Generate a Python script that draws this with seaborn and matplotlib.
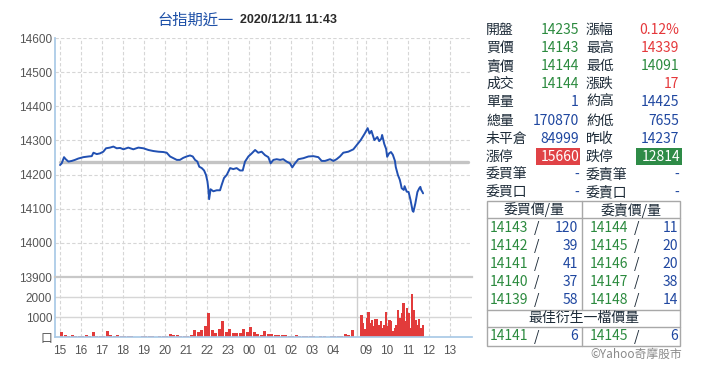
import numpy as np
import pandas as pd
import matplotlib
matplotlib.use("Agg")
import matplotlib.pyplot as plt
from matplotlib.patches import Rectangle
import seaborn as sns

# night session: hours after 15:00 and index price
night_hours = [0.00, 0.08, 0.19, 0.27, 0.40, 0.56, 0.71, 0.87, 1.11, 1.35, 1.51, 1.59, 1.75, 1.90,
               2.06, 2.19, 2.38, 2.54, 2.70, 2.86, 3.02, 3.25, 3.49, 3.73, 3.97, 4.21, 4.44, 4.68,
               4.92, 5.08, 5.24, 5.40, 5.56, 5.71, 5.87, 6.03, 6.19, 6.32, 6.43, 6.54, 6.63, 6.75,
               6.86, 6.95, 7.02, 7.06, 7.10, 7.17, 7.30, 7.46, 7.62, 7.70, 7.81, 7.94, 8.10, 8.25,
               8.41, 8.57, 8.70, 8.81, 8.97, 9.13, 9.29, 9.44, 9.60, 9.76, 9.92, 10.03, 10.16, 10.32,
               10.48, 10.63, 10.79, 10.95, 11.06, 11.19, 11.35, 11.59, 11.83, 12.06, 12.30, 12.46,
               12.62, 12.86, 13.02, 13.17, 13.33, 13.49, 13.73, 13.97]
night_price = [14228, 14233, 14251, 14245, 14238, 14240, 14243, 14247, 14251, 14253, 14254, 14264, 14260, 14262,
               14267, 14277, 14279, 14282, 14277, 14278, 14274, 14279, 14274, 14279, 14277, 14272, 14269, 14267,
               14266, 14264, 14253, 14248, 14243, 14243, 14249, 14253, 14256, 14253, 14243, 14238, 14223, 14219,
               14212, 14199, 14180, 14160, 14128, 14157, 14151, 14154, 14154, 14170, 14190, 14199, 14219, 14216,
               14219, 14212, 14212, 14238, 14253, 14262, 14272, 14264, 14267, 14257, 14251, 14233, 14243, 14245,
               14243, 14245, 14238, 14233, 14221, 14233, 14245, 14248, 14253, 14254, 14251, 14240,
               14240, 14245, 14240, 14245, 14253, 14264, 14267, 14274]

# day session: clock hours and index price
day_hours = [8.75, 8.84, 8.94, 9.08, 9.17, 9.26, 9.40, 9.54, 9.63, 9.73, 9.77, 9.87, 9.96, 10.01,
             10.10, 10.19, 10.28, 10.38, 10.42, 10.52, 10.61, 10.66, 10.70, 10.80, 10.84, 10.94,
             11.03, 11.12, 11.17, 11.22, 11.26, 11.35, 11.45, 11.54, 11.59, 11.63, 11.68, 11.72]
day_price = [14301, 14310, 14320, 14336, 14320, 14328, 14301, 14310, 14298, 14305, 14316, 14290, 14275, 14252,
             14262, 14266, 14258, 14240, 14222, 14199, 14185, 14172, 14160, 14155, 14166, 14150,
             14149, 14126, 14110, 14094, 14091, 14115, 14149, 14160, 14164, 14155, 14150, 14145]

# volume: 10-minute buckets from 15:00 (night), 5-minute buckets from 08:45 (day)
night_vol = [230, 80, 60, 90, 50, 70,
             60, 90, 40, 230, 70, 50,
             60, 280, 80, 60, 90, 40,
             50, 30, 40, 20, 0, 40,
             30, 50, 40, 20, 40, 50,
             60, 150, 120, 90, 60, 50,
             60, 80, 370, 250, 370, 530,
             1200, 330, 200, 400, 820, 250,
             400, 220, 200, 180, 400, 250,
             500, 250, 150, 120, 320, 130,
             130, 110, 120, 90, 100, 70,
             60, 80, 40, 50, 30, 40,
             30, 20, 40, 30, 20, 30,
             40, 60, 50, 160, 90, 370]
day_vol = [1100, 700, 400, 950, 1250, 700, 870, 530, 880, 900, 620, 790,
           450, 620, 1250, 530, 870, 820, 300, 450, 620, 1370, 950, 1200,
           1700, 790, 1450, 1200, 450, 2170, 1370, 870, 620, 900, 450, 620]

prev_close = 14237
night_labels = ["15", "16", "17", "18", "19", "20", "21", "22", "23", "00", "01", "02", "03", "04"]
day_labels = ["09", "10", "11", "12", "13"]

quote_rows = [("開盤", "14235", "g", "漲幅", "0.12%", "r"),
              ("買價", "14143", "g", "最高", "14339", "r"),
              ("賣價", "14144", "g", "最低", "14091", "g"),
              ("成交", "14144", "g", "漲跌", "17", "r"),
              ("單量", "1", "b", "約高", "14425", "b"),
              ("總量", "170870", "b", "約低", "7655", "b"),
              ("未平倉", "84999", "b", "昨收", "14237", "b"),
              ("漲停", "15660", "R", "跌停", "12814", "G"),
              ("委買筆", "-", "b", "委賣筆", "-", "b"),
              ("委買口", "-", "b", "委賣口", "-", "b")]
bid_price = ["14143", "14142", "14141", "14140", "14139"]
bid_qty = ["120", "39", "41", "37", "58"]
ask_price = ["14144", "14145", "14146", "14147", "14148"]
ask_qty = ["11", "20", "20", "38", "14"]
best_bid = ("14141", "6")
best_ask = ("14145", "6")

# ---- layout helpers
DAY0 = 14.57  # axis position of 09:00
SEP = 14.14   # session separator


def day_pos(h):
    return DAY0 + (np.asarray(h) - 9.0)


sns.set_theme(style="white")
plt.rcParams["font.family"] = ["Noto Sans CJK TC", "DejaVu Sans"]

GREEN = "#2b8a3e"
RED = "#e5383b"
BLUE = "#1f47a0"
LABEL = "#1d2b38"
GRID = "#d6d6d6"
AXIS = "#a9c9e6"
TXT = "#555555"
TICKFONT = "Liberation Sans"

W, H = 707, 392
fig = plt.figure(figsize=(W / 100, H / 100), dpi=100)
fig.patch.set_facecolor("white")

L, R = 55, 472
ax = fig.add_axes([L / W, 1 - 277 / H, (R - L) / W, (277 - 38) / H])
axv = fig.add_axes([L / W, 1 - 337 / H, (R - L) / W, 60 / H], sharex=ax)

xticks = list(range(len(night_labels))) + [DAY0 + i for i in range(len(day_labels))]
xlabels = night_labels + day_labels
xlim = (-0.24, 19.62)

# price panel
price_df = pd.DataFrame({
    "pos": np.concatenate([np.array(night_hours), day_pos(day_hours)]),
    "price": night_price + day_price,
})
ax.set_xlim(*xlim)
ax.set_ylim(13900, 14600)
for y in range(14000, 14601, 100):
    ax.axhline(y, color=GRID, lw=0.8, ls=(0, (3, 2)), zorder=0)
for x in xticks + [SEP]:
    ax.axvline(x, color=GRID, lw=0.8, ls=(0, (3, 2)), zorder=0)
ax.plot([0, 19.43], [prev_close, prev_close], color="#c4c4c4", lw=2.4, zorder=1)
sns.lineplot(data=price_df, x="pos", y="price", ax=ax, sort=False, color="#2150b2", lw=1.4, zorder=3)
ax.set_yticks(range(13900, 14601, 100))
ax.set_yticklabels([str(v) for v in range(13900, 14601, 100)], family=TICKFONT)
ax.tick_params(axis="y", length=0, pad=2, labelsize=8.5, labelcolor=TXT)
ax.tick_params(axis="x", length=0, labelbottom=False)
ax.set_xlabel("")
ax.set_ylabel("")
for s in ["top", "right", "bottom"]:
    ax.spines[s].set_visible(False)
ax.spines["left"].set_color(AXIS)

# volume panel
nv_pos = (np.arange(len(night_vol)) + 0.5) / 6
dv_pos = day_pos(8.75 + (np.arange(len(day_vol)) + 0.5) / 12)
axv.set_ylim(0, 3000)
for y in [1000, 2000]:
    axv.axhline(y, color=GRID, lw=1.0, zorder=0)
for x in xticks:
    axv.axvline(x, color=GRID, lw=0.8, ls=(0, (3, 2)), zorder=0)
axv.axvline(SEP, color="#cfcfcf", lw=1.0, zorder=0)
axv.bar(nv_pos, night_vol, width=0.15, color="#e23b3b", lw=0, zorder=2)
axv.bar(dv_pos, day_vol, width=0.11, color="#e23b3b", lw=0, zorder=2)
axv.set_yticks([0, 1000, 2000])
axv.set_yticklabels(["口", "1000", "2000"])
for t in axv.get_yticklabels()[1:]:
    t.set_family(TICKFONT)
axv.set_xticks(xticks)
axv.set_xticklabels(xlabels, family=TICKFONT)
axv.tick_params(axis="y", length=0, pad=2, labelsize=8.5, labelcolor=TXT)
axv.tick_params(axis="x", length=0, pad=6, labelsize=8.5, labelcolor=TXT)
axv.spines["right"].set_visible(False)
axv.spines["top"].set_color("#c8c8c8")
axv.spines["top"].set_linewidth(1.6)
axv.spines["left"].set_color(AXIS)
axv.spines["bottom"].set_color(AXIS)

# overlay in pixel coordinates for title and quote table
ov = fig.add_axes([0, 0, 1, 1], facecolor="none")
ov.set_xlim(0, W)
ov.set_ylim(H, 0)
ov.axis("off")

ov.text(234, 20, "台指期近一", color="#1b4ea6", fontsize=11, ha="right", va="center")
ov.text(240, 20, "2020/12/11 11:43", color="#2a2a2a", fontsize=9, fontweight="bold",
        ha="left", va="center", family=TICKFONT)

cmap = {"g": GREEN, "r": RED, "b": BLUE}
FS = 10
for i, (l1, v1, c1, l2, v2, c2) in enumerate(quote_rows):
    y = 30 + i * 18.1
    ov.text(486, y, l1, color=LABEL, fontsize=FS, va="center", ha="left")
    ov.text(586, y, l2, color=LABEL, fontsize=FS, va="center", ha="left")
    if c1 == "R":
        ov.add_patch(Rectangle((536, y - 8.5), 44, 17, color="#e04246", lw=0))
        ov.text(579, y, v1, color="white", fontsize=FS, va="center", ha="right")
    else:
        ov.text(579, y, v1, color=cmap[c1], fontsize=FS, va="center", ha="right")
    if c2 == "G":
        ov.add_patch(Rectangle((636, y - 8.5), 46, 17, color="#2e8b47", lw=0))
        ov.text(680, y, v2, color="white", fontsize=FS, va="center", ha="right")
    else:
        ov.text(679, y, v2, color=cmap[c2], fontsize=FS, va="center", ha="right")

# order book table
BC = "#a8a8a8"
tl, tr, tt, tb = 487, 680, 201, 346
ov.add_patch(Rectangle((tl, tt), tr - tl, tb - tt, fill=False, ec=BC, lw=1))
for y in [218, 310, 327]:
    ov.plot([tl, tr], [y, y], color=BC, lw=1)
ov.plot([582, 582], [tt, 310], color=BC, lw=1)
ov.plot([582, 582], [327, tb], color=BC, lw=1)
ov.text(534, 210, "委買價/量", color=LABEL, fontsize=FS, ha="center", va="center")
ov.text(631, 210, "委賣價/量", color=LABEL, fontsize=FS, ha="center", va="center")
for i in range(5):
    y = 227.5 + i * 18.2
    ov.text(490, y, bid_price[i], color=GREEN, fontsize=FS, va="center")
    ov.text(537, y, "/", color=LABEL, fontsize=FS, va="center", ha="center")
    ov.text(578, y, bid_qty[i], color=BLUE, fontsize=FS, va="center", ha="right")
    ov.text(590, y, ask_price[i], color=GREEN, fontsize=FS, va="center")
    ov.text(637, y, "/", color=LABEL, fontsize=FS, va="center", ha="center")
    ov.text(678, y, ask_qty[i], color=BLUE, fontsize=FS, va="center", ha="right")
ov.text(584, 318, "最佳衍生一檔價量", color=LABEL, fontsize=FS, ha="center", va="center")
ov.text(490, 336.5, best_bid[0], color=GREEN, fontsize=FS, va="center")
ov.text(537, 336.5, "/", color=LABEL, fontsize=FS, va="center", ha="center")
ov.text(578, 336.5, best_bid[1], color=BLUE, fontsize=FS, va="center", ha="right")
ov.text(590, 336.5, best_ask[0], color=GREEN, fontsize=FS, va="center")
ov.text(637, 336.5, "/", color=LABEL, fontsize=FS, va="center", ha="center")
ov.text(678, 336.5, best_ask[1], color=BLUE, fontsize=FS, va="center", ha="right")
ov.text(682, 354, "©Yahoo奇摩股市", color="#8a8a8a", fontsize=8.5, ha="right", va="center")

fig.savefig("out.png", dpi=100)
